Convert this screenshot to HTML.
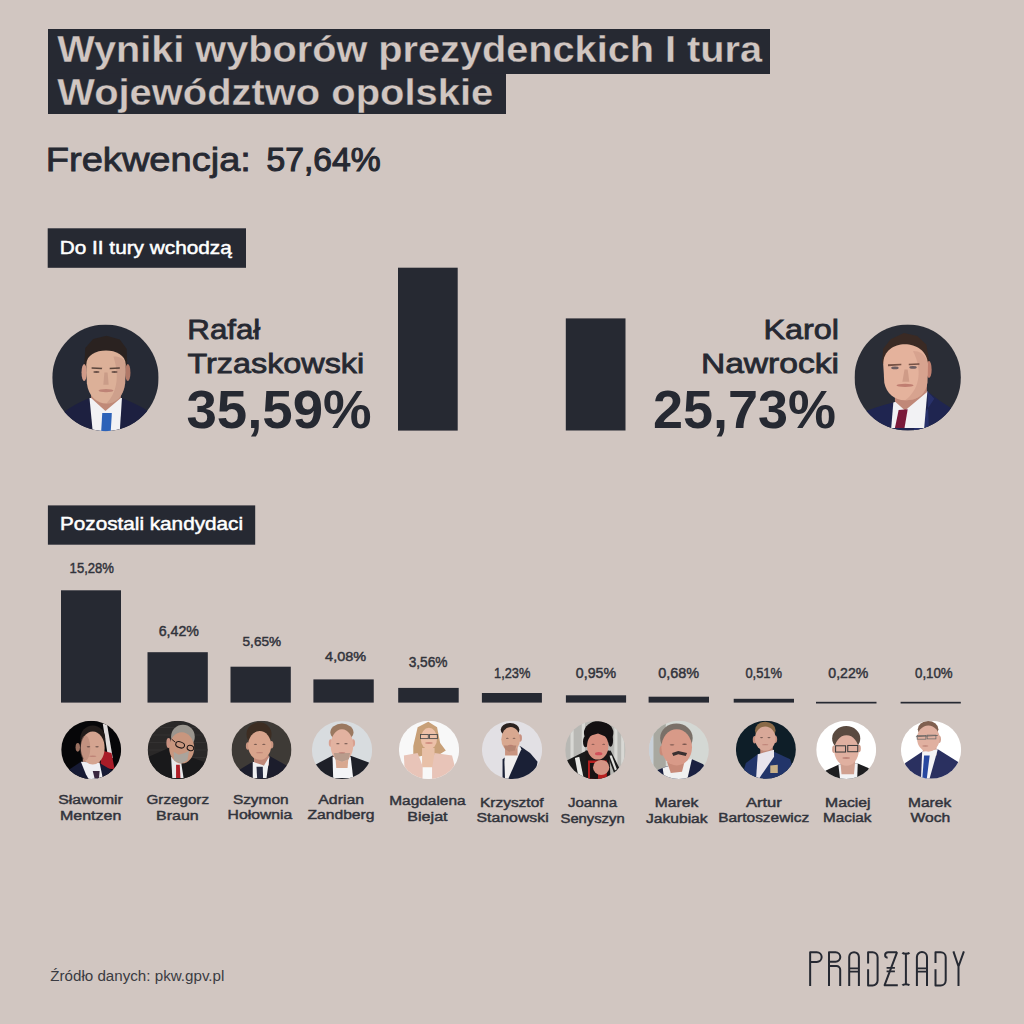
<!DOCTYPE html>
<html><head><meta charset="utf-8"><style>
html,body{margin:0;padding:0;background:#d1c6c1;}
svg{display:block;font-family:"Liberation Sans",sans-serif;}
</style></head><body>
<svg width="1024" height="1024" viewBox="0 0 1024 1024">
<rect width="1024" height="1024" fill="#d1c6c1"/>
<rect x="48.00" y="29.00" width="722.00" height="45.00" fill="#262932"/>
<rect x="48.00" y="73.50" width="458.00" height="40.50" fill="#262932"/>
<rect x="47.70" y="228.30" width="198.30" height="39.50" fill="#262932"/>
<rect x="47.90" y="505.40" width="207.30" height="39.30" fill="#262932"/>
<rect x="398.00" y="267.70" width="59.70" height="162.90" fill="#262932"/>
<rect x="565.80" y="318.40" width="59.70" height="112.10" fill="#262932"/>
<rect x="61.00" y="590.30" width="60.00" height="112.30" fill="#262932"/>
<rect x="147.50" y="652.20" width="60.30" height="50.40" fill="#262932"/>
<rect x="230.50" y="666.70" width="60.30" height="35.90" fill="#262932"/>
<rect x="313.40" y="679.40" width="60.35" height="23.20" fill="#262932"/>
<rect x="398.20" y="687.90" width="60.50" height="14.70" fill="#262932"/>
<rect x="481.90" y="693.00" width="60.00" height="9.60" fill="#262932"/>
<rect x="565.90" y="695.30" width="60.20" height="7.30" fill="#262932"/>
<rect x="648.60" y="696.70" width="60.40" height="5.90" fill="#262932"/>
<rect x="733.70" y="698.80" width="60.30" height="3.80" fill="#262932"/>
<rect x="816.00" y="701.80" width="60.50" height="1.70" fill="#262932"/>
<rect x="900.60" y="701.80" width="60.20" height="1.70" fill="#262932"/>
<clipPath id="c1"><ellipse cx="0" cy="0" rx="1" ry="1"/></clipPath><g transform="translate(105.45,377.85) scale(53.2,53.3)"><g clip-path="url(#c1)"><rect x="-1" y="-1" width="2" height="2" fill="#262a35"/><path d="M-0.8,1 L-0.8,0.66 Q-0.6,0.5 -0.3,0.38 L0.31,0.38 Q0.6,0.5 0.8,0.62 L0.8,1 Z" fill="#1d2040"/><polygon points="-0.3,0.38 0.31,0.38 0.27,1 -0.24,1" fill="#f2f2f4"/><polygon points="-0.27,0.2 0.29,0.2 0.29,0.38 0.0,0.62 -0.27,0.38" fill="#c08a78"/><polygon points="-0.06,0.66 0.12,0.66 0.1,1 -0.08,1" fill="#2c62b8"/><polygon points="-0.4,-0.2 -0.38,-0.56 -0.23,-0.73 0.02,-0.79 0.27,-0.72 0.4,-0.54 0.41,-0.2" fill="#2a2220"/><ellipse cx="-0.4" cy="-0.1" rx="0.05" ry="0.16" fill="#d09a88"/><ellipse cx="0.42" cy="-0.1" rx="0.05" ry="0.16" fill="#b07868"/><path d="M-0.36,-0.25 C-0.36,-0.6 0.38,-0.6 0.38,-0.25 L0.37,0.1 C0.34,0.35 0.2,0.48 0.02,0.48 C-0.16,0.48 -0.32,0.35 -0.35,0.1 Z" fill="#dcb098"/><path d="M0.15,-0.4 C0.38,-0.4 0.38,-0.25 0.38,-0.25 L0.37,0.1 C0.34,0.35 0.2,0.48 0.02,0.48 C0.2,0.3 0.28,0.0 0.15,-0.4 Z" fill="#c09080" opacity="0.5"/><path d="M-0.26,-0.2 L-0.06,-0.19 L-0.07,-0.16 L-0.26,-0.17 Z" fill="#3a2a25" opacity="0.8"/><path d="M0.08,-0.19 L0.27,-0.2 L0.27,-0.17 L0.08,-0.16 Z" fill="#3a2a25" opacity="0.8"/><ellipse cx="-0.17" cy="-0.11" rx="0.06" ry="0.02" fill="#3a2a28" opacity="0.7"/><ellipse cx="0.17" cy="-0.11" rx="0.06" ry="0.02" fill="#3a2a28" opacity="0.7"/><polygon points="-0.02,-0.1 0.04,-0.1 0.06,0.13 -0.04,0.13" fill="#b08070" opacity="0.4"/><ellipse cx="0.01" cy="0.24" rx="0.14" ry="0.03" fill="#b07068" opacity="0.7"/></g></g>
<clipPath id="c2"><ellipse cx="0" cy="0" rx="1" ry="1"/></clipPath><g transform="translate(907.7,377.5) scale(53.2,53.1)"><g clip-path="url(#c2)"><rect x="-1" y="-1" width="2" height="2" fill="#2a2d36"/><path d="M-0.85,1 L-0.85,0.66 Q-0.6,0.55 -0.27,0.47 L0.37,0.26 Q0.6,0.45 0.85,0.6 L0.85,1 Z" fill="#1f2550"/><polygon points="0.37,0.26 0.5,0.4 0.1,1 0.4,1" fill="#2a3470" opacity="0.8"/><polygon points="-0.27,0.47 0.37,0.26 0.31,0.95 -0.31,0.95" fill="#f2f2f4"/><polygon points="-0.24,0.2 0.36,0.1 0.36,0.28 -0.05,0.62 -0.24,0.45" fill="#c08878"/><polygon points="-0.17,0.61 0.0,0.6 -0.06,0.95 -0.24,0.95" fill="#7a1a3a"/><polygon points="-0.48,-0.27 -0.46,-0.54 -0.32,-0.72 -0.07,-0.84 0.18,-0.78 0.35,-0.62 0.41,-0.27" fill="#3a2a24"/><ellipse cx="0.4" cy="-0.15" rx="0.05" ry="0.16" fill="#c08070"/><path d="M-0.46,-0.25 C-0.46,-0.76 0.36,-0.74 0.38,-0.25 L0.37,0.1 C0.33,0.35 0.15,0.43 -0.05,0.43 C-0.25,0.43 -0.4,0.3 -0.44,0.1 Z" fill="#e4b29c"/><path d="M0.1,-0.5 C0.36,-0.5 0.38,-0.25 0.38,-0.25 L0.37,0.1 C0.33,0.35 0.15,0.43 -0.05,0.43 C0.2,0.25 0.3,-0.1 0.1,-0.5 Z" fill="#c89080" opacity="0.45"/><path d="M-0.37,-0.25 L-0.12,-0.26 L-0.12,-0.23 L-0.37,-0.21 Z" fill="#5a3a30" opacity="0.8"/><path d="M0.02,-0.26 L0.22,-0.27 L0.22,-0.24 L0.02,-0.23 Z" fill="#5a3a30" opacity="0.8"/><ellipse cx="-0.24" cy="-0.18" rx="0.07" ry="0.025" fill="#3a3a48" opacity="0.7"/><ellipse cx="0.1" cy="-0.19" rx="0.07" ry="0.025" fill="#3a3a48" opacity="0.7"/><polygon points="-0.06,-0.15 0.0,-0.15 0.03,0.08 -0.1,0.08" fill="#b07868" opacity="0.4"/><ellipse cx="-0.05" cy="0.15" rx="0.16" ry="0.03" fill="#b06860" opacity="0.7"/></g></g>
<clipPath id="c3"><ellipse cx="0" cy="0" rx="1" ry="1"/></clipPath><g transform="translate(91.2,749.85) scale(30.0,29.05)"><g clip-path="url(#c3)"><rect x="-1" y="-1" width="2" height="2" fill="#060608"/><polygon points="0.385,-0.903 0.531,-0.86 0.719,0.28 0.573,0.323" fill="#e0dcdc"/><polygon points="0.344,0.022 0.677,0.108 0.781,0.667 0.302,0.624" fill="#a81c28"/><polygon points="-0.281,0.301 0.281,0.301 0.281,0.667 -0.281,0.667" fill="#b88878"/><polygon points="-0.865,1.054 -0.781,0.71 -0.344,0.409 0.281,0.452 0.698,0.71 0.906,1.054" fill="#161a34"/><polygon points="-0.344,0.409 0.281,0.452 0.385,0.968 -0.073,1.032 -0.177,0.839" fill="#eeeef2"/><polygon points="0.052,0.731 0.281,0.731 0.26,0.968 0.115,0.989" fill="#3a2840"/><ellipse cx="0.052" cy="-0.387" rx="0.417" ry="0.452" fill="#221c1a"/><ellipse cx="-0.448" cy="-0.086" rx="0.073" ry="0.151" fill="#9a7060"/><ellipse cx="0.052" cy="-0.065" rx="0.396" ry="0.57" fill="#d4a490"/><ellipse cx="-0.198" cy="-0.065" rx="0.167" ry="0.43" fill="#b08070" opacity="0.5"/><ellipse cx="-0.0905" cy="-0.11059139784946237" rx="0.059375" ry="0.02564516129032258" fill="#3a2a28" opacity="0.6"/><ellipse cx="0.19449999999999998" cy="-0.11059139784946237" rx="0.059375" ry="0.02564516129032258" fill="#3a2a28" opacity="0.6"/><ellipse cx="0.052" cy="0.2199462365591398" rx="0.11875" ry="0.028494623655913983" fill="#b07068" opacity="0.6"/></g></g>
<clipPath id="c4"><ellipse cx="0" cy="0" rx="1" ry="1"/></clipPath><g transform="translate(177.75,749.85) scale(30.1,29.05)"><g clip-path="url(#c4)"><rect x="-1" y="-1" width="2" height="2" fill="#2a2828"/><polygon points="-1.052,-0.774 1.073,-0.774 1.073,-0.757 -1.052,-0.757" fill="#3c3a3a"/><polygon points="-1.052,-0.516 1.073,-0.516 1.073,-0.499 -1.052,-0.499" fill="#3c3a3a"/><polygon points="-1.052,-0.258 1.073,-0.258 1.073,-0.241 -1.052,-0.241" fill="#3c3a3a"/><polygon points="-1.052,0.0 1.073,0.0 1.073,0.017 -1.052,0.017" fill="#3c3a3a"/><polygon points="-1.052,0.258 1.073,0.258 1.073,0.275 -1.052,0.275" fill="#3c3a3a"/><polygon points="-1.052,1.054 -1.052,0.28 -0.305,-0.065 -0.056,0.538 0.4,0.237 0.857,0.409 1.073,1.054" fill="#19191b"/><polygon points="-0.222,0.237 0.11,0.409 0.193,0.968 -0.18,0.968" fill="#e8e8ea"/><polygon points="-0.056,0.516 0.068,0.516 0.089,0.968 -0.056,0.968" fill="#b01e28"/><ellipse cx="0.172" cy="-0.452" rx="0.394" ry="0.409" fill="#9a958e"/><ellipse cx="-0.305" cy="-0.237" rx="0.073" ry="0.172" fill="#c89080"/><ellipse cx="0.131" cy="-0.065" rx="0.415" ry="0.538" fill="#c8967e"/><polygon points="-0.139,0.065 0.027,0.172 0.234,0.108 0.38,0.022 0.317,0.366 0.11,0.473 -0.118,0.366" fill="#aaa49c"/><ellipse cx="0.079" cy="-0.172" rx="0.15" ry="0.1" transform="rotate(20 0.079 -0.172)" fill="none" stroke="#1a1414" stroke-width="0.035"/><ellipse cx="0.421" cy="-0.065" rx="0.11" ry="0.09" transform="rotate(20 0.421 -0.065)" fill="none" stroke="#1a1414" stroke-width="0.035"/><path d="M-0.201,-0.366 L-0.077,-0.258" stroke="#1a1414" stroke-width="0.03" fill="none"/></g></g>
<clipPath id="c5"><ellipse cx="0" cy="0" rx="1" ry="1"/></clipPath><g transform="translate(261.5,749.85) scale(30.0,29.05)"><g clip-path="url(#c5)"><rect x="-1" y="-1" width="2" height="2" fill="#3e3a36"/><polygon points="-1.083,1.054 -0.958,0.796 -0.708,0.667 -0.292,0.409 0.271,0.215 0.833,0.538 1.0,0.839 1.05,1.054" fill="#1c1d2c"/><polygon points="-0.25,0.194 0.25,0.194 0.25,0.538 -0.25,0.538" fill="#c08878"/><polygon points="-0.292,0.409 0.083,0.538 0.271,0.215 0.167,0.968 -0.292,0.968" fill="#f0f0f2"/><polygon points="-0.167,0.581 0.042,0.581 0.052,0.968 -0.146,0.968" fill="#262a40"/><ellipse cx="-0.083" cy="-0.538" rx="0.417" ry="0.409" fill="#3d2d22"/><ellipse cx="-0.458" cy="-0.129" rx="0.062" ry="0.129" fill="#c89480"/><ellipse cx="0.333" cy="-0.172" rx="0.062" ry="0.129" fill="#c89480"/><ellipse cx="-0.062" cy="-0.151" rx="0.385" ry="0.495" fill="#d8a48c"/><ellipse cx="-0.20075" cy="-0.19056989247311829" rx="0.0578125" ry="0.022258064516129033" fill="#3a2a28" opacity="0.6"/><ellipse cx="0.07675000000000001" cy="-0.19056989247311829" rx="0.0578125" ry="0.022258064516129033" fill="#3a2a28" opacity="0.6"/><ellipse cx="-0.062" cy="0.09631182795698925" rx="0.115625" ry="0.024731182795698928" fill="#b07068" opacity="0.6"/></g></g>
<clipPath id="c6"><ellipse cx="0" cy="0" rx="1" ry="1"/></clipPath><g transform="translate(342.05,750.0) scale(30.15,28.9)"><g clip-path="url(#c6)"><rect x="-1" y="-1" width="2" height="2" fill="#d8dcdf"/><polygon points="-1.062,1.056 -0.938,0.537 -0.315,0.19 0.266,0.19 0.888,0.429 1.062,1.056" fill="#1e2028"/><polygon points="-0.315,0.234 0.286,0.234 0.369,0.97 -0.295,0.97" fill="#f4f4f6"/><polygon points="-0.232,0.104 0.224,0.104 0.183,0.623 -0.191,0.623" fill="#d8a890"/><ellipse cx="-0.004" cy="-0.61" rx="0.384" ry="0.303" fill="#9a7860"/><ellipse cx="-0.378" cy="-0.242" rx="0.062" ry="0.13" fill="#d8a090"/><ellipse cx="0.369" cy="-0.242" rx="0.062" ry="0.13" fill="#d8a090"/><ellipse cx="-0.004" cy="-0.156" rx="0.373" ry="0.563" fill="#e2b2a0"/><polygon points="-0.274,0.104 0.266,0.104 0.224,0.32 -0.004,0.407 -0.232,0.32" fill="#b89c8c"/><ellipse cx="-0.13843983402489626" cy="-0.22029004329004329" rx="0.056016597510373446" ry="0.02435064935064935" fill="#3a2a28" opacity="0.6"/><ellipse cx="0.13043983402489626" cy="-0.22029004329004329" rx="0.056016597510373446" ry="0.02435064935064935" fill="#3a2a28" opacity="0.6"/><ellipse cx="-0.004" cy="0.09356277056277057" rx="0.11203319502074689" ry="0.027056277056277056" fill="#b07068" opacity="0.6"/></g></g>
<clipPath id="c7"><ellipse cx="0" cy="0" rx="1" ry="1"/></clipPath><g transform="translate(429.05,749.85) scale(30.15,29.05)"><g clip-path="url(#c7)"><rect x="-1" y="-1" width="2" height="2" fill="#f8f8f8"/><polygon points="-0.378,-0.774 -0.025,-0.968 0.266,-0.774 0.369,-0.237 0.556,0.022 0.286,0.194 -0.191,0.194 -0.523,0.28 -0.523,-0.129" fill="#c8a078"/><polygon points="-0.232,-0.065 0.183,-0.065 0.183,0.667 -0.232,0.667" fill="#e8c0a8"/><polygon points="-0.834,0.194 -0.378,0.108 -0.191,0.624 -0.212,1.054 -0.793,1.054" fill="#e8c4b8"/><polygon points="0.183,0.108 0.763,0.194 0.846,0.538 0.763,1.054 0.017,1.054 0.1,0.624" fill="#e8c4b8"/><polygon points="-0.212,0.602 0.1,0.602 0.1,1.054 -0.212,1.054" fill="#f8f8f8"/><ellipse cx="-0.004" cy="-0.387" rx="0.27" ry="0.376" fill="#ecc0a8"/><rect x="-0.284" y="-0.527" width="0.259" height="0.14" fill="none" stroke="#4a4a4a" stroke-width="0.03"/><rect x="0.017" y="-0.527" width="0.259" height="0.14" fill="none" stroke="#4a4a4a" stroke-width="0.03"/><ellipse cx="-0.004" cy="-0.237" rx="0.124" ry="0.032" fill="#c07068" opacity="0.6"/></g></g>
<clipPath id="c8"><ellipse cx="0" cy="0" rx="1" ry="1"/></clipPath><g transform="translate(512.05,749.85) scale(30.15,29.05)"><g clip-path="url(#c8)"><rect x="-1" y="-1" width="2" height="2" fill="#e2e0e4"/><polygon points="-0.315,0.323 0.266,-0.129 0.598,0.108 0.846,0.409 0.805,0.624 0.39,1.054 -0.315,1.054" fill="#1a2036"/><polygon points="-0.232,0.108 0.266,-0.129 0.307,-0.022 -0.149,1.054 -0.232,1.054 -0.253,0.409" fill="#f0eeee"/><polygon points="-0.232,-0.151 0.183,-0.151 0.183,0.194 -0.232,0.194" fill="#c89480"/><ellipse cx="-0.066" cy="-0.688" rx="0.311" ry="0.237" fill="#2a2220"/><ellipse cx="0.266" cy="-0.409" rx="0.062" ry="0.129" fill="#c89080"/><ellipse cx="-0.046" cy="-0.366" rx="0.311" ry="0.419" fill="#d8a890"/><polygon points="-0.274,-0.151 0.141,-0.151 0.1,0.022 -0.087,0.065 -0.232,-0.022" fill="#a07060" opacity="0.6"/><ellipse cx="-0.1580331950207469" cy="-0.3995483870967742" rx="0.046680497925311204" ry="0.018870967741935484" fill="#3a2a28" opacity="0.6"/><ellipse cx="0.0660331950207469" cy="-0.3995483870967742" rx="0.046680497925311204" ry="0.018870967741935484" fill="#3a2a28" opacity="0.6"/><ellipse cx="-0.046" cy="-0.15632258064516127" rx="0.09336099585062241" ry="0.020967741935483872" fill="#b07068" opacity="0.6"/></g></g>
<clipPath id="c9"><ellipse cx="0" cy="0" rx="1" ry="1"/></clipPath><g transform="translate(595.35,750.0) scale(30.15,28.9)"><g clip-path="url(#c9)"><rect x="-1" y="-1" width="2" height="2" fill="#b8b8b4"/><polygon points="-0.824,-1.108 -0.72,-1.108 -0.72,1.108 -0.824,1.108" fill="#d8d8d4"/><polygon points="-0.45,-1.108 -0.346,-1.108 -0.346,1.108 -0.45,1.108" fill="#d8d8d4"/><polygon points="0.629,-1.108 0.732,-1.108 0.732,1.108 0.629,1.108" fill="#d8d8d4"/><polygon points="0.857,-1.108 0.961,-1.108 0.961,1.108 0.857,1.108" fill="#d8d8d4"/><polygon points="-0.948,0.364 -0.284,0.017 -0.139,1.056 -0.45,1.056 -0.824,0.667" fill="#1a1a1a"/><polygon points="-0.678,0.277 -0.533,0.234 -0.388,0.97 -0.554,0.97" fill="#e8e8e4"/><polygon points="0.359,0.061 0.504,0.017 0.795,0.623 0.629,0.818" fill="#1a1a1a"/><polygon points="0.463,0.19 0.546,0.19 0.712,0.667 0.649,0.71" fill="#e0e0dc"/><polygon points="-0.326,0.017 0.463,0.017 0.504,1.056 -0.326,1.056" fill="#1a1616"/><polygon points="-0.243,0.364 0.38,0.364 0.38,1.056 -0.243,1.056" fill="#b82020"/><polygon points="-0.18,0.45 0.089,0.45 0.089,1.056 -0.18,1.056" fill="#181414"/><ellipse cx="0.11" cy="-0.589" rx="0.488" ry="0.411" fill="#141012"/><ellipse cx="-0.326" cy="-0.286" rx="0.083" ry="0.195" fill="#141012"/><ellipse cx="0.504" cy="-0.329" rx="0.083" ry="0.216" fill="#141012"/><ellipse cx="0.079" cy="-0.134" rx="0.353" ry="0.465" fill="#d89080"/><polygon points="-0.284,-0.459 0.089,-0.567 0.463,-0.416 0.421,-0.632 -0.243,-0.632" fill="#141012"/><ellipse cx="0.193" cy="0.602" rx="0.27" ry="0.26" fill="#d49484"/><ellipse cx="0.11" cy="0.126" rx="0.124" ry="0.054" fill="#d04050" opacity="0.8"/><ellipse cx="-0.077" cy="-0.199" rx="0.05" ry="0.02" fill="#3a2a28" opacity="0.6"/><ellipse cx="0.276" cy="-0.199" rx="0.05" ry="0.02" fill="#3a2a28" opacity="0.6"/></g></g>
<clipPath id="c10"><ellipse cx="0" cy="0" rx="1" ry="1"/></clipPath><g transform="translate(678.9,749.85) scale(30.0,29.05)"><g clip-path="url(#c10)"><rect x="-1" y="-1" width="2" height="2" fill="#d4d8d4"/><polygon points="-0.854,-1.097 -0.438,-1.097 -0.438,1.105 -0.854,1.105" fill="#a8a8a0"/><polygon points="-1.062,-1.097 -0.854,-1.097 -0.854,1.105 -1.062,1.105" fill="#c8d0d8"/><polygon points="-1.062,1.105 -0.688,0.688 -0.438,0.581 0.438,0.323 0.812,0.495 1.071,1.105" fill="#1a2040"/><polygon points="-0.542,0.624 0.438,0.301 0.271,1.054 -0.479,1.054" fill="#f0f0f0"/><polygon points="-0.396,0.409 0.188,0.409 0.104,0.753 -0.271,0.796" fill="#c88a78"/><ellipse cx="-0.083" cy="-0.409" rx="0.542" ry="0.495" fill="#7a7068"/><ellipse cx="-0.562" cy="0.022" rx="0.083" ry="0.172" fill="#c88a78"/><ellipse cx="-0.073" cy="-0.086" rx="0.51" ry="0.624" fill="#d89a88"/><polygon points="-0.229,0.108 -0.021,0.043 0.271,0.108 0.229,0.215 -0.021,0.151 -0.188,0.215" fill="#3a3030"/><ellipse cx="-0.229" cy="-0.172" rx="0.08" ry="0.025" fill="#3a2a28" opacity="0.6"/><ellipse cx="0.188" cy="-0.194" rx="0.08" ry="0.025" fill="#3a2a28" opacity="0.6"/></g></g>
<clipPath id="c11"><ellipse cx="0" cy="0" rx="1" ry="1"/></clipPath><g transform="translate(765.9,749.7) scale(30.0,28.95)"><g clip-path="url(#c11)"><rect x="-1" y="-1" width="2" height="2" fill="#0e1e28"/><polygon points="-0.854,1.114 -0.667,0.458 -0.271,0.156 0.271,0.069 0.812,0.328 0.917,0.739 0.812,1.114" fill="#22356a"/><polygon points="-0.188,-0.125 0.229,-0.125 0.229,0.242 -0.188,0.242" fill="#c08878"/><polygon points="-0.271,0.156 0.271,0.004 0.271,0.242 -0.271,1.063 -0.333,1.063" fill="#e8e4ec"/><polygon points="0.146,0.544 0.396,0.523 0.396,0.803 0.146,0.803" fill="#c8b088"/><ellipse cx="-0.021" cy="-0.665" rx="0.344" ry="0.302" fill="#8a6a48"/><ellipse cx="-0.375" cy="-0.341" rx="0.062" ry="0.13" fill="#c89080"/><ellipse cx="0.312" cy="-0.363" rx="0.062" ry="0.13" fill="#c89080"/><ellipse cx="-0.021" cy="-0.384" rx="0.344" ry="0.421" fill="#d8a898"/><ellipse cx="-0.14475" cy="-0.41769330453563713" rx="0.0515625" ry="0.018952483801295893" fill="#3a2a28" opacity="0.6"/><ellipse cx="0.10275" cy="-0.41769330453563713" rx="0.0515625" ry="0.018952483801295893" fill="#3a2a28" opacity="0.6"/><ellipse cx="-0.021" cy="-0.17341684665226784" rx="0.103125" ry="0.021058315334773217" fill="#b07068" opacity="0.6"/></g></g>
<clipPath id="c12"><ellipse cx="0" cy="0" rx="1" ry="1"/></clipPath><g transform="translate(846.2,749.85) scale(30.0,29.05)"><g clip-path="url(#c12)"><rect x="-1" y="-1" width="2" height="2" fill="#ffffff"/><polygon points="-1.073,1.105 -0.677,0.71 -0.26,0.516 0.385,0.473 0.74,0.624 1.06,1.105" fill="#1e1e20"/><polygon points="-0.26,0.516 0.385,0.473 0.365,1.054 -0.198,1.054" fill="#f2f2f4"/><polygon points="-0.198,0.366 0.302,0.366 0.26,0.839 -0.156,0.839" fill="#d0a090"/><ellipse cx="0.0" cy="-0.387" rx="0.469" ry="0.43" fill="#5a4a40"/><ellipse cx="-0.406" cy="-0.022" rx="0.062" ry="0.129" fill="#d0a090"/><ellipse cx="0.427" cy="-0.043" rx="0.062" ry="0.129" fill="#d0a090"/><ellipse cx="0.01" cy="0.022" rx="0.406" ry="0.527" fill="#e0b0a0"/><rect x="-0.354" y="-0.14" width="0.333" height="0.215" fill="none" stroke="#3a3a3a" stroke-width="0.035"/><rect x="0.052" y="-0.151" width="0.333" height="0.215" fill="none" stroke="#3a3a3a" stroke-width="0.035"/><ellipse cx="0.0" cy="0.28" rx="0.125" ry="0.032" fill="#a86a60" opacity="0.6"/></g></g>
<clipPath id="c13"><ellipse cx="0" cy="0" rx="1" ry="1"/></clipPath><g transform="translate(931.05,749.7) scale(30.15,28.9)"><g clip-path="url(#c13)"><rect x="-1" y="-1" width="2" height="2" fill="#ffffff"/><polygon points="-1.062,1.117 -0.855,0.459 -0.295,0.069 0.224,-0.017 0.888,0.416 1.062,1.117" fill="#2a3060"/><polygon points="-0.274,-0.082 0.183,-0.082 0.183,0.199 -0.274,0.199" fill="#d0a090"/><polygon points="-0.295,0.069 0.224,-0.017 -0.066,1.065 -0.336,1.065" fill="#f4f4f6"/><polygon points="-0.232,0.199 -0.046,0.199 -0.149,1.065 -0.295,1.065" fill="#2848a0"/><ellipse cx="-0.098" cy="-0.71" rx="0.342" ry="0.281" fill="#806050"/><ellipse cx="0.266" cy="-0.364" rx="0.062" ry="0.13" fill="#d0a090"/><ellipse cx="-0.091" cy="-0.385" rx="0.373" ry="0.455" fill="#e0b0a0"/><path d="M-0.502,-0.45 L0.224,-0.494" stroke="#555" stroke-width="0.025" fill="none"/><rect x="-0.461" y="-0.494" width="0.29" height="0.13" fill="none" stroke="#666" stroke-width="0.025"/><rect x="-0.129" y="-0.504" width="0.29" height="0.13" fill="none" stroke="#666" stroke-width="0.025"/><ellipse cx="-0.191" cy="-0.126" rx="0.104" ry="0.026" fill="#a86a60" opacity="0.6"/></g></g>
<g fill="none" stroke="#262932" stroke-width="2" stroke-linecap="butt" stroke-linejoin="round">
<path d="M810.15,986 V952.2 H816.8 A4.85,4.85 0 0 1 816.8,961.9 H810.15"/>
<path d="M829,986 V952.2 H835.5 A4.8,4.8 0 0 1 835.5,961.8 H829 M829,966 H836.5 A3.7,3.7 0 0 1 840.2,969.7 V986"/>
<path d="M849.2,986 V957 A4.85,4.85 0 0 1 858.9,957 V986"/><path d="M849.2,968.3 H858.9 M849.2,971.7 H858.9" stroke-width="1.7"/>
<path d="M868.1,963.5 V952.2 H872.6 A5,5 0 0 1 877.6,957.2 V980.4 A5,5 0 0 1 872.6,985.4 H868.1 V969.2"/>
<path d="M897.1,952.2 H888.2 C884.2,952.2 884.2,957.6 887.6,957.8 M897.1,952.2 L884.6,985.2 H897.8"/><path d="M886.6,967.9 H894.9 M886.6,971.3 H894.9" stroke-width="1.7"/>
<path d="M905.9,953.5 V984.5 M902.4,952.6 C903.5,954.2 908.3,954.2 909.4,952.6 M902.4,985.4 C903.5,983.8 908.3,983.8 909.4,985.4"/>
<path d="M916.9,986 V957 A5.05,5.05 0 0 1 927,957 V986"/><path d="M916.9,968.3 H927 M916.9,971.7 H927" stroke-width="1.7"/>
<path d="M935.5,963 V952.2 H940.7 A5,5 0 0 1 945.7,957.2 V980.4 A5,5 0 0 1 940.7,985.4 H935.5 V969.2"/>
<path d="M953.4,951.4 L958.5,966.5 L963.9,951.4 M958.5,966.5 V986"/>
</g>

<text x="57.20" y="61.60" font-size="37.25" font-weight="700" fill="#d1c6c1" stroke="#262932" stroke-width="0.3" textLength="704.86" lengthAdjust="spacingAndGlyphs">Wyniki wyborów prezydenckich I tura</text>
<text x="57.20" y="104.60" font-size="37.39" font-weight="700" fill="#d1c6c1" stroke="#262932" stroke-width="0.3" textLength="436.05" lengthAdjust="spacingAndGlyphs">Województwo opolskie</text>
<text x="45.75" y="171.00" font-size="33.04" font-weight="400" fill="#262932" stroke="#262932" stroke-width="0.8" textLength="205.20" lengthAdjust="spacingAndGlyphs">Frekwencja:</text>
<text x="266.55" y="171.10" font-size="33.04" font-weight="400" fill="#262932" stroke="#262932" stroke-width="1.1" textLength="114.11" lengthAdjust="spacingAndGlyphs">57,64%</text>
<text x="59.74" y="253.70" font-size="18.70" font-weight="400" fill="#ffffff" stroke="#ffffff" stroke-width="0.5" textLength="171.99" lengthAdjust="spacingAndGlyphs">Do II tury wchodzą</text>
<text x="187.30" y="339.30" font-size="28.26" font-weight="400" fill="#262932" stroke="#262932" stroke-width="0.8" textLength="73.00" lengthAdjust="spacingAndGlyphs">Rafał</text>
<text x="187.55" y="372.90" font-size="28.26" font-weight="400" fill="#262932" stroke="#262932" stroke-width="0.8" textLength="176.66" lengthAdjust="spacingAndGlyphs">Trzaskowski</text>
<text x="186.44" y="428.20" font-size="53.86" font-weight="700" fill="#262932" textLength="185.15" lengthAdjust="spacingAndGlyphs">35,59%</text>
<text x="763.41" y="339.30" font-size="28.26" font-weight="400" fill="#262932" stroke="#262932" stroke-width="0.8" textLength="75.65" lengthAdjust="spacingAndGlyphs">Karol</text>
<text x="700.91" y="372.90" font-size="28.26" font-weight="400" fill="#262932" stroke="#262932" stroke-width="0.8" textLength="138.14" lengthAdjust="spacingAndGlyphs">Nawrocki</text>
<text x="652.91" y="428.20" font-size="53.86" font-weight="700" fill="#262932" textLength="183.06" lengthAdjust="spacingAndGlyphs">25,73%</text>
<text x="59.94" y="530.10" font-size="18.70" font-weight="400" fill="#ffffff" stroke="#ffffff" stroke-width="0.5" textLength="183.08" lengthAdjust="spacingAndGlyphs">Pozostali kandydaci</text>
<text x="69.62" y="573.30" font-size="14.06" font-weight="400" fill="#31333b" stroke="#31333b" stroke-width="0.45" textLength="44.40" lengthAdjust="spacingAndGlyphs">15,28%</text>
<text x="158.69" y="635.50" font-size="14.14" font-weight="400" fill="#31333b" stroke="#31333b" stroke-width="0.45" textLength="40.21" lengthAdjust="spacingAndGlyphs">6,42%</text>
<text x="242.56" y="645.60" font-size="13.55" font-weight="400" fill="#31333b" stroke="#31333b" stroke-width="0.45" textLength="38.53" lengthAdjust="spacingAndGlyphs">5,65%</text>
<text x="325.14" y="661.25" font-size="13.55" font-weight="400" fill="#31333b" stroke="#31333b" stroke-width="0.45" textLength="40.97" lengthAdjust="spacingAndGlyphs">4,08%</text>
<text x="408.65" y="667.30" font-size="14.43" font-weight="400" fill="#31333b" stroke="#31333b" stroke-width="0.45" textLength="38.83" lengthAdjust="spacingAndGlyphs">3,56%</text>
<text x="494.04" y="677.80" font-size="14.64" font-weight="400" fill="#31333b" stroke="#31333b" stroke-width="0.45" textLength="36.31" lengthAdjust="spacingAndGlyphs">1,23%</text>
<text x="575.83" y="677.70" font-size="14.00" font-weight="400" fill="#31333b" stroke="#31333b" stroke-width="0.45" textLength="40.17" lengthAdjust="spacingAndGlyphs">0,95%</text>
<text x="658.32" y="677.70" font-size="14.00" font-weight="400" fill="#31333b" stroke="#31333b" stroke-width="0.45" textLength="40.89" lengthAdjust="spacingAndGlyphs">0,68%</text>
<text x="745.38" y="677.70" font-size="14.00" font-weight="400" fill="#31333b" stroke="#31333b" stroke-width="0.45" textLength="36.68" lengthAdjust="spacingAndGlyphs">0,51%</text>
<text x="828.34" y="677.70" font-size="14.00" font-weight="400" fill="#31333b" stroke="#31333b" stroke-width="0.45" textLength="39.96" lengthAdjust="spacingAndGlyphs">0,22%</text>
<text x="915.07" y="677.70" font-size="14.00" font-weight="400" fill="#31333b" stroke="#31333b" stroke-width="0.45" textLength="37.60" lengthAdjust="spacingAndGlyphs">0,10%</text>
<text x="58.19" y="803.70" font-size="13.29" font-weight="400" fill="#31333b" stroke="#31333b" stroke-width="0.45" textLength="64.68" lengthAdjust="spacingAndGlyphs">Sławomir</text>
<text x="59.92" y="819.70" font-size="13.48" font-weight="400" fill="#31333b" stroke="#31333b" stroke-width="0.45" textLength="61.43" lengthAdjust="spacingAndGlyphs">Mentzen</text>
<text x="146.54" y="803.70" font-size="13.29" font-weight="400" fill="#31333b" stroke="#31333b" stroke-width="0.45" textLength="62.46" lengthAdjust="spacingAndGlyphs">Grzegorz</text>
<text x="156.02" y="819.70" font-size="13.48" font-weight="400" fill="#31333b" stroke="#31333b" stroke-width="0.45" textLength="42.68" lengthAdjust="spacingAndGlyphs">Braun</text>
<text x="232.91" y="803.70" font-size="13.29" font-weight="400" fill="#31333b" stroke="#31333b" stroke-width="0.45" textLength="55.63" lengthAdjust="spacingAndGlyphs">Szymon</text>
<text x="227.64" y="819.20" font-size="13.48" font-weight="400" fill="#31333b" stroke="#31333b" stroke-width="0.45" textLength="64.61" lengthAdjust="spacingAndGlyphs">Hołownia</text>
<text x="318.32" y="803.70" font-size="13.48" font-weight="400" fill="#31333b" stroke="#31333b" stroke-width="0.45" textLength="45.72" lengthAdjust="spacingAndGlyphs">Adrian</text>
<text x="307.43" y="819.20" font-size="13.48" font-weight="400" fill="#31333b" stroke="#31333b" stroke-width="0.45" textLength="67.10" lengthAdjust="spacingAndGlyphs">Zandberg</text>
<text x="389.27" y="804.90" font-size="13.48" font-weight="400" fill="#31333b" stroke="#31333b" stroke-width="0.45" textLength="76.29" lengthAdjust="spacingAndGlyphs">Magdalena</text>
<text x="407.31" y="820.60" font-size="13.48" font-weight="400" fill="#31333b" stroke="#31333b" stroke-width="0.45" textLength="40.29" lengthAdjust="spacingAndGlyphs">Biejat</text>
<text x="479.96" y="806.60" font-size="13.48" font-weight="400" fill="#31333b" stroke="#31333b" stroke-width="0.45" textLength="63.59" lengthAdjust="spacingAndGlyphs">Krzysztof</text>
<text x="476.59" y="822.00" font-size="13.29" font-weight="400" fill="#31333b" stroke="#31333b" stroke-width="0.45" textLength="72.08" lengthAdjust="spacingAndGlyphs">Stanowski</text>
<text x="567.98" y="806.80" font-size="13.48" font-weight="400" fill="#31333b" stroke="#31333b" stroke-width="0.45" textLength="49.04" lengthAdjust="spacingAndGlyphs">Joanna</text>
<text x="560.53" y="822.50" font-size="13.29" font-weight="400" fill="#31333b" stroke="#31333b" stroke-width="0.45" textLength="64.14" lengthAdjust="spacingAndGlyphs">Senyszyn</text>
<text x="654.85" y="806.80" font-size="13.48" font-weight="400" fill="#31333b" stroke="#31333b" stroke-width="0.45" textLength="43.43" lengthAdjust="spacingAndGlyphs">Marek</text>
<text x="645.97" y="822.50" font-size="13.48" font-weight="400" fill="#31333b" stroke="#31333b" stroke-width="0.45" textLength="61.66" lengthAdjust="spacingAndGlyphs">Jakubiak</text>
<text x="745.92" y="806.60" font-size="13.48" font-weight="400" fill="#31333b" stroke="#31333b" stroke-width="0.45" textLength="35.97" lengthAdjust="spacingAndGlyphs">Artur</text>
<text x="718.16" y="822.10" font-size="13.48" font-weight="400" fill="#31333b" stroke="#31333b" stroke-width="0.45" textLength="91.12" lengthAdjust="spacingAndGlyphs">Bartoszewicz</text>
<text x="825.04" y="806.60" font-size="13.48" font-weight="400" fill="#31333b" stroke="#31333b" stroke-width="0.45" textLength="45.48" lengthAdjust="spacingAndGlyphs">Maciej</text>
<text x="823.08" y="822.10" font-size="13.48" font-weight="400" fill="#31333b" stroke="#31333b" stroke-width="0.45" textLength="48.39" lengthAdjust="spacingAndGlyphs">Maciak</text>
<text x="908.06" y="806.60" font-size="13.48" font-weight="400" fill="#31333b" stroke="#31333b" stroke-width="0.45" textLength="43.12" lengthAdjust="spacingAndGlyphs">Marek</text>
<text x="910.52" y="822.10" font-size="13.48" font-weight="400" fill="#31333b" stroke="#31333b" stroke-width="0.45" textLength="39.75" lengthAdjust="spacingAndGlyphs">Woch</text>
<text x="50.25" y="981.10" font-size="14.64" font-weight="400" fill="#3a3b42" textLength="174.09" lengthAdjust="spacingAndGlyphs">Źródło danych: pkw.gpv.pl</text>
</svg>
</body></html>
